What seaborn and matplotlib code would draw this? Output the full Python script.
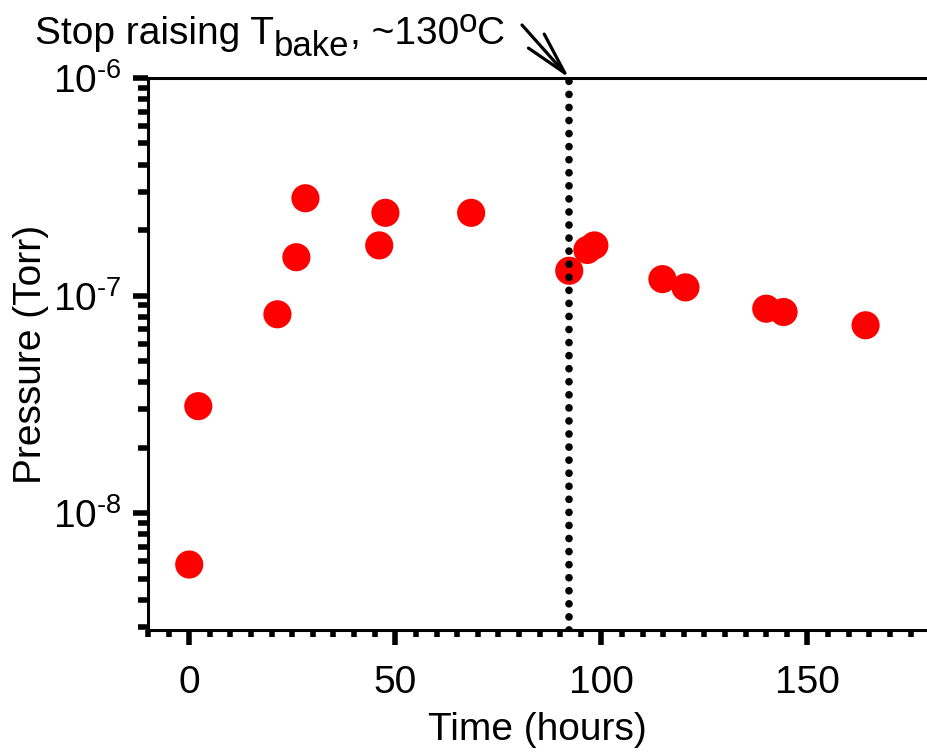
import numpy as np
import pandas as pd
import seaborn as sns
import matplotlib
matplotlib.use('Agg')
import matplotlib.pyplot as plt
from matplotlib.transforms import IdentityTransform
from matplotlib.ticker import MultipleLocator, LogLocator, NullFormatter

# bake-out pressure readings
time_hours = [0.0, 2.2, 21.4, 26.0, 28.2, 46.1, 47.6, 68.4, 92.2, 96.6, 98.3,
              114.8, 120.4, 140.0, 144.2, 164.1]
pressure_torr = [5.8e-9, 3.1e-8, 8.2e-8, 1.5e-7, 2.8e-7, 1.7e-7, 2.4e-7, 2.4e-7,
                 1.3e-7, 1.62e-7, 1.7e-7, 1.19e-7, 1.09e-7, 8.7e-8, 8.4e-8, 7.3e-8]
stop_time = 92.2
x_ticks = [0, 50, 100, 150]
y_ticks = [1e-8, 1e-7, 1e-6]
y_labels = [r'$\mathregular{10^{\text{-}8}}$', r'$\mathregular{10^{\text{-}7}}$',
            r'$\mathregular{10^{\text{-}6}}$']
# annotation pieces: text, font size, baseline shift (px)
note_parts = [('Stop raising T', 28, 0), ('bake', 25, -12), (', ~130', 28, 0),
              ('o', 24, 12), ('C', 28, 0)]

sns.set_style('white')
plt.rcParams['font.family'] = ['Liberation Sans', 'DejaVu Sans']
plt.rcParams['mathtext.fontset'] = 'custom'
plt.rcParams['mathtext.rm'] = 'Liberation Sans'
plt.rcParams['mathtext.it'] = 'Liberation Sans'
plt.rcParams['font.size'] = 28
for key in ['text.color', 'axes.labelcolor', 'xtick.color', 'ytick.color']:
    plt.rcParams[key] = 'black'

data = pd.DataFrame({'time': time_hours, 'pressure': pressure_torr})

fig = plt.figure(figsize=(9.27, 7.55), dpi=100)
ax = fig.add_axes([148 / 927, 125 / 755, 1 - 148 / 927, (630 - 78) / 755])

sns.scatterplot(data=data, x='time', y='pressure', ax=ax, color='#ff0000',
                s=410, edgecolor='none', zorder=3)
ax.set_yscale('log')
ax.set_xlim(-10, 179)
ax.set_ylim(2.9e-9, 1e-6)

ax.axvline(stop_time, color='black', lw=5.5, ls=(0, (0.01, 1.7)),
           dash_capstyle='round', zorder=5)

ax.set_xticks(x_ticks)
ax.xaxis.set_minor_locator(MultipleLocator(5))
ax.set_yticks(y_ticks)
ax.set_yticklabels(y_labels)
ax.yaxis.set_minor_locator(LogLocator(base=10, subs=np.arange(2, 10)))
ax.yaxis.set_minor_formatter(NullFormatter())

ax.tick_params(which='major', direction='out', length=11, width=4,
               labelsize=28, left=True, bottom=True)
ax.tick_params(axis='x', which='major', pad=14)
ax.tick_params(axis='y', which='major', pad=8)
ax.tick_params(which='minor', direction='out', length=7, width=4,
               left=True, bottom=True)
ax.tick_params(axis='x', which='minor', length=5)

for side in ['left', 'bottom', 'top']:
    ax.spines[side].set_linewidth(2.2)
    ax.spines[side].set_color('black')
ax.spines['right'].set_visible(False)

ax.set_xlabel('Time (hours)', fontsize=28, labelpad=8)
ax.set_ylabel('Pressure (Torr)', fontsize=28, labelpad=3)

# piecewise annotation so sub/superscripts keep their large size
renderer = fig.canvas.get_renderer()
x_px, base_px = 35, 755 - 44
for part, size, shift in note_parts:
    t = fig.text(x_px, base_px + shift, part, fontsize=size, ha='left',
                 va='baseline', transform=IdentityTransform())
    x_px = t.get_window_extent(renderer).x1

ax.annotate('', xy=(stop_time, 1e-6), xycoords='data',
            xytext=(522 / 927, 1 - 25 / 755), textcoords='figure fraction',
            arrowprops=dict(arrowstyle='->, head_length=0.77, head_width=0.19',
                            lw=2.3, color='black', mutation_scale=40,
                            shrinkA=0, shrinkB=0),
            annotation_clip=False)

fig.savefig('out.png', dpi=100)
